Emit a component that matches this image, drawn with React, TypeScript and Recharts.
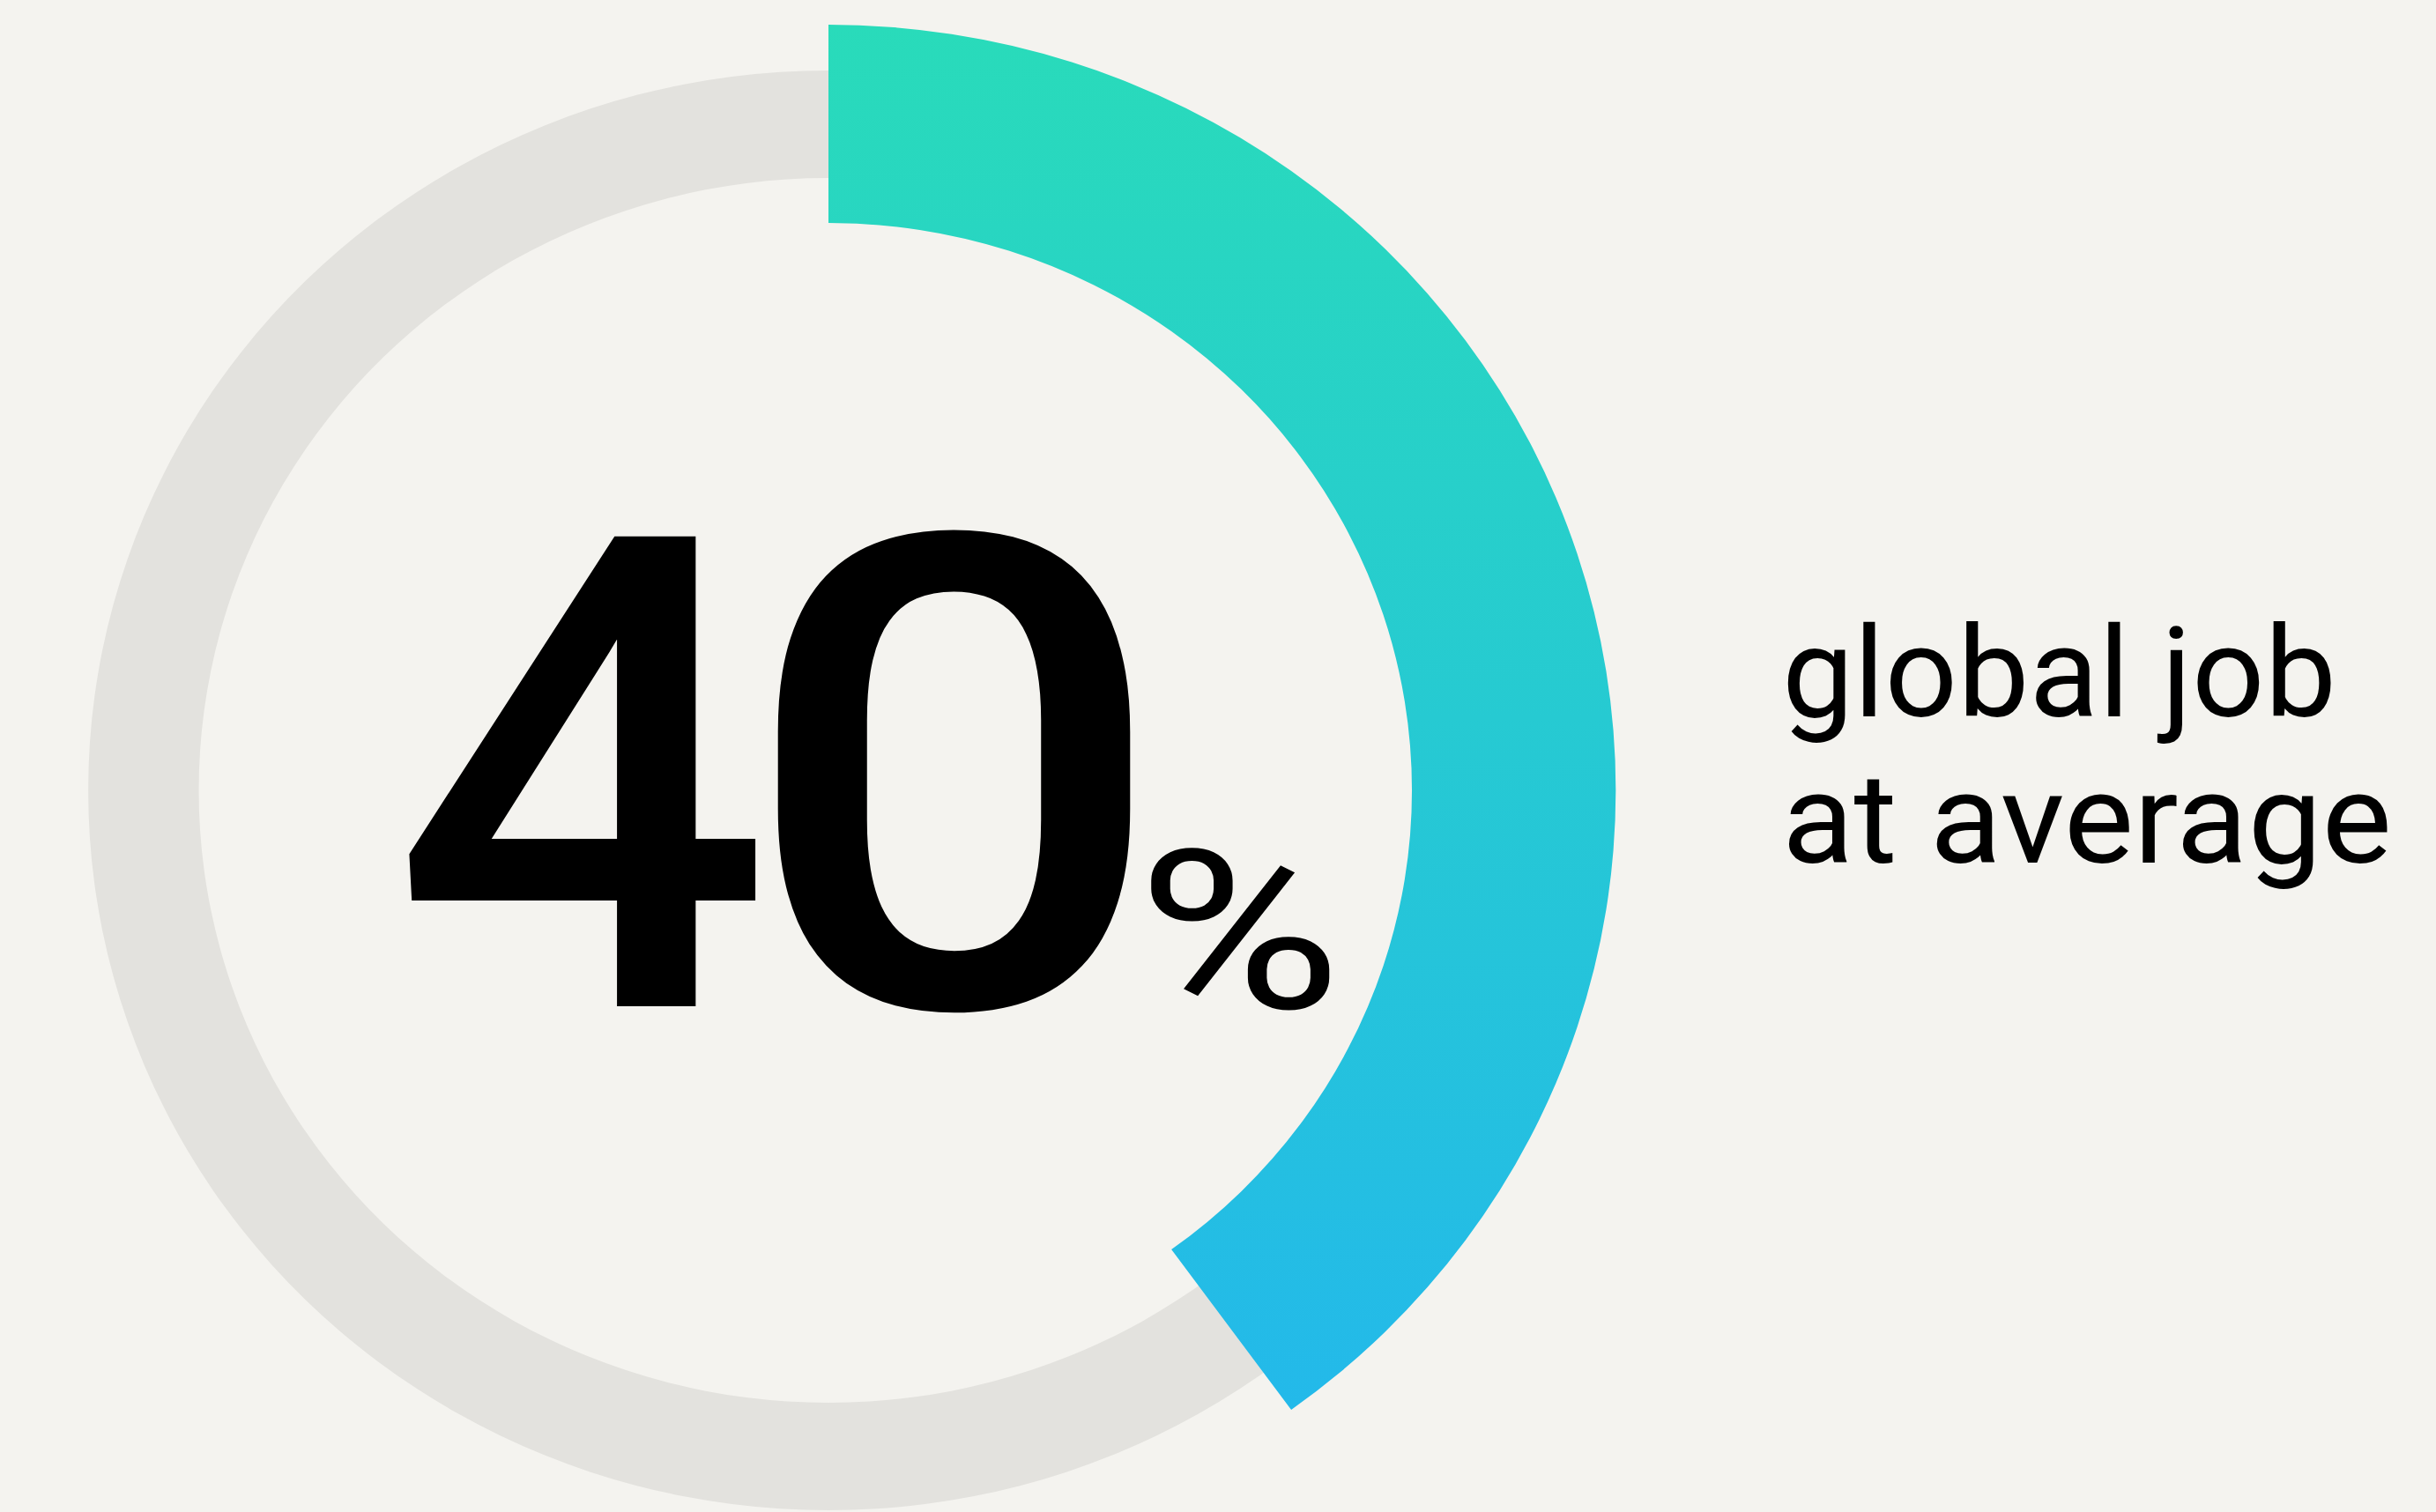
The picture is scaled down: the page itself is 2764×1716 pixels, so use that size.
import React from 'react';
import { PieChart, Pie, Cell } from 'recharts';

const trackData = [{ name: 'track', value: 100 }];
const gaugeData = [
  { name: 'global job at average', value: 40 },
  { name: 'rest', value: 60 },
];
const valueLabel = '40';
const unitLabel = '%';
const captionLines = ['global job', 'at average'];

const W = 2764;
const H = 1716;
const CX = 940;
const CY = 897;
const SX = 1.028;

export default function App() {
  const chars = valueLabel.split('');
  const digitX = [444, 839];
  const digitLen = [432, 487];
  return (
    <div style={{ position: 'fixed', left: 0, top: 0, width: W, height: H, background: '#F4F3EF', overflow: 'hidden' }}>
      <svg width={0} height={0} style={{ position: 'absolute' }}>
        <defs>
          <linearGradient id="gaugeGrad" x1="0" y1="0" x2="0" y2="1">
            <stop offset="0%" stopColor="#29DBBA" />
            <stop offset="100%" stopColor="#23B9EA" />
          </linearGradient>
        </defs>
      </svg>
      <div style={{ position: 'absolute', left: 0, top: 0, width: W, height: H, transform: `scaleX(${SX})`, transformOrigin: `${CX}px ${CY}px` }}>
        <PieChart width={W} height={H} margin={{ top: 0, right: 0, bottom: 0, left: 0 }}>
          <Pie
            data={trackData}
            dataKey="value"
            cx={CX}
            cy={CY}
            innerRadius={695}
            outerRadius={817}
            startAngle={90}
            endAngle={-270}
            stroke="none"
            isAnimationActive={false}
          >
            {trackData.map((d) => (
              <Cell key={d.name} fill="#E3E2DE" />
            ))}
          </Pie>
          <Pie
            data={gaugeData}
            dataKey="value"
            cx={CX}
            cy={CY}
            innerRadius={644}
            outerRadius={869}
            startAngle={90}
            endAngle={-270}
            stroke="none"
            isAnimationActive={false}
          >
            {gaugeData.map((d, i) => (
              <Cell key={d.name} fill={i === 0 ? 'url(#gaugeGrad)' : 'transparent'} />
            ))}
          </Pie>
        </PieChart>
      </div>
      <svg width={W} height={H} style={{ position: 'absolute', left: 0, top: 0 }}>
        <text y={1142} fontFamily="Roboto" fontWeight={500} fontSize={750} fill="#000">
          {chars.map((c, i) => (
            <tspan key={i} x={digitX[i]} textLength={digitLen[i]} lengthAdjust="spacingAndGlyphs">
              {c}
            </tspan>
          ))}
        </text>
        <text x={1290} y={1144} fontFamily="Roboto" fontWeight={400} fontSize={252} textLength={232} lengthAdjust="spacingAndGlyphs" fill="#000">
          {unitLabel}
        </text>
        <text x={2022} y={813} fontFamily="Roboto" fontWeight={400} fontSize={142} textLength={629} lengthAdjust="spacingAndGlyphs" fill="#000">
          {captionLines[0]}
        </text>
        <text x={2022} y={979} fontFamily="Roboto" fontWeight={400} fontSize={142} textLength={692} lengthAdjust="spacingAndGlyphs" fill="#000">
          {captionLines[1]}
        </text>
      </svg>
    </div>
  );
}
